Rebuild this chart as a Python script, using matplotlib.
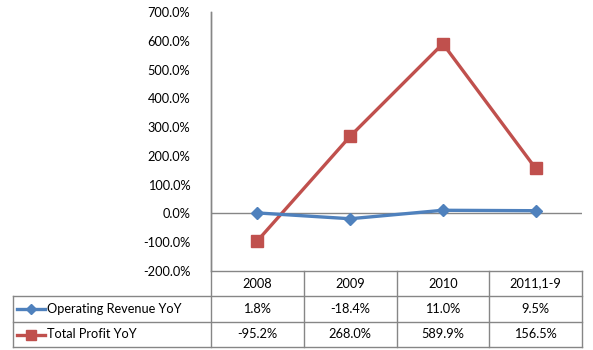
import matplotlib
matplotlib.use("Agg")
import matplotlib.pyplot as plt
from matplotlib.lines import Line2D
from matplotlib.transforms import blended_transform_factory
from matplotlib.ticker import FuncFormatter

categories = ["2008", "2009", "2010", "2011,1-9"]
revenue_yoy = [1.8, -18.4, 11.0, 9.5]
profit_yoy = [-95.2, 268.0, 589.9, 156.5]
series_names = ["Operating Revenue YoY", "Total Profit YoY"]
y_ticks = [-200, -100, 0, 100, 200, 300, 400, 500, 600, 700]

W, H = 593, 350
plt.rcParams['font.family'] = ['Lato', 'DejaVu Sans']
fig = plt.figure(figsize=(W / 100, H / 100), dpi=100)

def fx(px):
    return px / W

def fy(py):
    return 1 - py / H

left, right, top, bottom = 211, 582, 12, 271
ax = fig.add_axes([fx(left), fy(bottom), fx(right) - fx(left), fy(top) - fy(bottom)])

blue = "#4F81BD"
red = "#C0504D"
gray = "#868686"
fs = 9.2

x = list(range(len(categories)))
ax.plot(x, revenue_yoy, color=blue, lw=2.4, marker="D", ms=6.5, zorder=4)
ax.plot(x, profit_yoy, color=red, lw=2.4, marker="s", ms=8.5, zorder=3)
ax.axhline(0, color=gray, lw=1, zorder=1)
ax.set_xlim(-0.5, len(categories) - 0.5)
ax.set_ylim(-200, 700)
ax.set_yticks(y_ticks)
ax.yaxis.set_major_formatter(FuncFormatter(lambda v, p: f"{v:.1f}%"))
ax.tick_params(axis="y", length=0, pad=15, labelsize=fs)
ax.set_xticks([])
for s in ["top", "right", "bottom"]:
    ax.spines[s].set_visible(False)
ax.spines["left"].set_color(gray)
ax.spines["left"].set_linewidth(1)

# data table
tr = blended_transform_factory(ax.transData, fig.transFigure)
row_y = [271, 296, 322, 347]

def fline(xs, ys, transform):
    fig.add_artist(Line2D(xs, ys, transform=transform, color=gray, lw=1))

# horizontal lines
fline([fx(left), fx(right)], [fy(row_y[0])] * 2, fig.transFigure)
for ry in row_y[1:]:
    fline([fx(13), fx(right)], [fy(ry)] * 2, fig.transFigure)
# vertical lines
fline([fx(left), fx(left)], [fy(top), fy(row_y[-1])], fig.transFigure)
fline([fx(13), fx(13)], [fy(row_y[1]), fy(row_y[-1])], fig.transFigure)
for i in range(1, len(categories) + 1):
    fline([i - 0.5, i - 0.5], [fy(row_y[0]), fy(row_y[-1])], tr)

centers = [(row_y[k] + row_y[k + 1]) / 2 for k in range(3)]
for i, c in enumerate(categories):
    fig.text(i, fy(centers[0]), c, transform=tr, ha="center", va="center", fontsize=fs)
    fig.text(i, fy(centers[1]), f"{revenue_yoy[i]:.1f}%", transform=tr, ha="center", va="center", fontsize=fs)
    fig.text(i, fy(centers[2]), f"{profit_yoy[i]:.1f}%", transform=tr, ha="center", va="center", fontsize=fs)

# legend keys inside table
for k, (col, mk, ms) in enumerate([(blue, "D", 5.5), (red, "s", 6.5)]):
    yy = fy(centers[k + 1])
    fig.add_artist(Line2D([fx(17), fx(45)], [yy, yy], transform=fig.transFigure, color=col, lw=2.4))
    fig.add_artist(Line2D([fx(31)], [yy], transform=fig.transFigure, color=col, marker=mk, ms=ms, lw=0))
    fig.text(fx(47), yy, series_names[k], ha="left", va="center", fontsize=fs)

fig.savefig("out.png", dpi=100)
